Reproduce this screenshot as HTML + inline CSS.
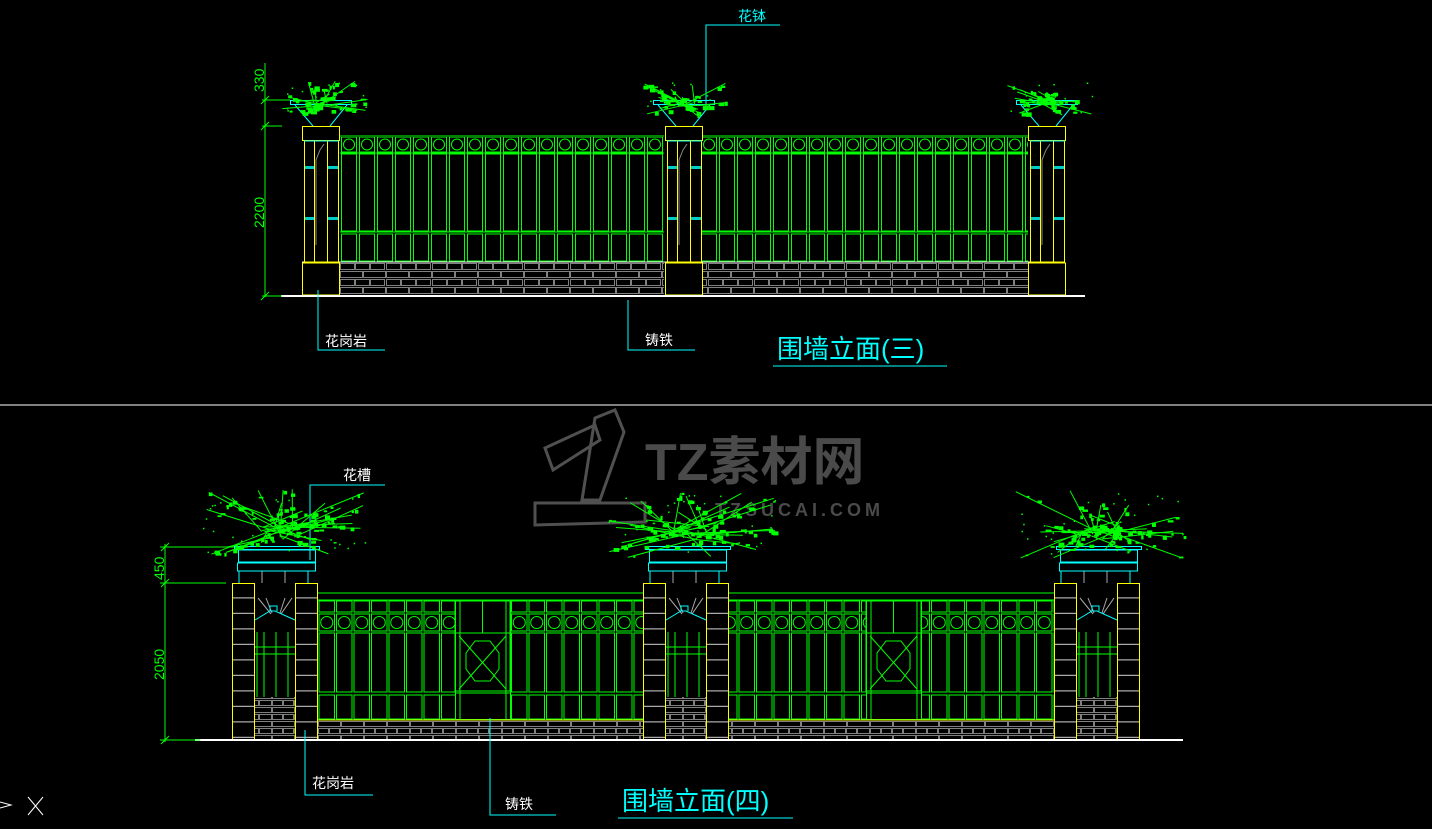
<!DOCTYPE html>
<html><head><meta charset="utf-8"><style>
html,body{margin:0;padding:0;background:#000;width:1432px;height:829px;overflow:hidden}
svg{display:block}
text{font-family:"Liberation Sans","Noto Sans CJK SC",sans-serif}
</style></head><body>
<svg id="s" width="1432" height="829" viewBox="0 0 1432 829" xmlns="http://www.w3.org/2000/svg">
<defs>
<pattern id="barsT" x="340" y="0" width="18" height="829" patternUnits="userSpaceOnUse">
 <rect x="1.5" y="154" width="15" height="77" fill="none" stroke="#00ff00" stroke-width="1"/>
 <rect x="1.5" y="234" width="15" height="27" fill="none" stroke="#00ff00" stroke-width="1"/>
 <rect x="1.5" y="137" width="15" height="15" fill="none" stroke="#00ff00" stroke-width="1"/>
 <circle cx="9" cy="144.5" r="5.5" fill="none" stroke="#00ff00" stroke-width="1"/>
 <line x1="9" y1="130" x2="9" y2="136" stroke="#00ff00"/>
</pattern>
<pattern id="brickT" x="340" y="263" width="46" height="16" patternUnits="userSpaceOnUse">
 <rect x="0.5" y="0.5" width="14" height="6" fill="none" stroke="#808080"/>
 <rect x="15.5" y="0.5" width="14" height="6" fill="none" stroke="#808080"/>
 <rect x="30.5" y="0.5" width="14" height="6" fill="none" stroke="#808080"/>
 <rect x="0.5" y="8.5" width="22" height="6" fill="none" stroke="#808080"/>
 <rect x="23.5" y="8.5" width="22" height="6" fill="none" stroke="#808080"/>
</pattern>
<pattern id="barsB" x="318" y="0" width="17.5" height="829" patternUnits="userSpaceOnUse">
 <rect x="1" y="601" width="15.5" height="11" fill="none" stroke="#00ff00"/>
 <rect x="1" y="614" width="15.5" height="17" fill="none" stroke="#00ff00"/>
 <circle cx="8.75" cy="622.5" r="6" fill="none" stroke="#00ff00"/>
 <rect x="1" y="633" width="15.5" height="59" fill="none" stroke="#00ff00"/>
 <rect x="1" y="695" width="15.5" height="24" fill="none" stroke="#00ff00"/>
</pattern>
<pattern id="brickB" x="318" y="721" width="46" height="14" patternUnits="userSpaceOnUse">
 <rect x="0.5" y="0.5" width="22" height="5" fill="none" stroke="#808080"/>
 <rect x="23.5" y="0.5" width="22" height="5" fill="none" stroke="#808080"/>
 <rect x="0.5" y="7.5" width="10" height="5" fill="none" stroke="#808080"/>
 <rect x="11.5" y="7.5" width="10" height="5" fill="none" stroke="#808080"/>
 <rect x="22.5" y="7.5" width="10" height="5" fill="none" stroke="#808080"/>
 <rect x="33.5" y="7.5" width="12" height="5" fill="none" stroke="#808080"/>
</pattern>
<pattern id="pilB" x="0" y="583" width="10" height="15.5" patternUnits="userSpaceOnUse">
 <line x1="0" y1="15" x2="10" y2="15" stroke="#aaa" stroke-width="1.5"/>
</pattern>
<g id="xdec">
 <rect x="0" y="0" width="55" height="90" fill="none" stroke="#00ff00"/>
 <line x1="4" y1="35" x2="51" y2="88" stroke="#00ff00"/>
 <line x1="51" y1="35" x2="4" y2="88" stroke="#00ff00"/>
 <polygon points="20,40 35,40 44,52 44,68 35,80 20,80 11,68 11,52" fill="none" stroke="#00ff00"/>
 <line x1="0" y1="32" x2="55" y2="32" stroke="#00ff00"/>
 <line x1="0" y1="92" x2="55" y2="92" stroke="#00ff00"/>
 <line x1="27.5" y1="0" x2="27.5" y2="32" stroke="#00ff00"/>
</g>
</defs>

<g stroke="#505050" stroke-width="3" fill="none">
 <path d="M545 448 L595 425 L600 440 L553 470 Z"/>
 <path d="M595 418 L615 410 L624 432 L600 500 L582 500 Z"/>
 <path d="M535 503 L645 503 L645 522 L535 525 Z"/>
</g>
<text x="645" y="480" font-size="52" font-weight="bold" fill="#4a4a4a">TZ素材网</text>
<text x="715" y="516" font-size="18" font-weight="bold" fill="#4a4a4a" letter-spacing="4">TZSUCAI.COM</text>

<rect x="340" y="137" width="324" height="125" fill="url(#barsT)"/>
<rect x="702" y="137" width="326" height="125" fill="url(#barsT)"/>
<g stroke="#00ff00" fill="none">
 <line x1="340" y1="136" x2="664" y2="136"/><line x1="702" y1="136" x2="1028" y2="136"/>
 <line x1="340" y1="153" x2="664" y2="153"/><line x1="702" y1="153" x2="1028" y2="153"/>
 <line x1="340" y1="232" x2="664" y2="232"/><line x1="702" y1="232" x2="1028" y2="232"/>
</g>
<rect x="340" y="263" width="324" height="32" fill="url(#brickT)"/>
<rect x="702" y="263" width="326" height="32" fill="url(#brickT)"/>
<line x1="302" y1="262" x2="1065" y2="262" stroke="#fff"/>
<g id="pilT" stroke="#ffff00" fill="none">
 <rect x="302.5" y="126.5" width="37" height="14"/>
 <rect x="304.5" y="141" width="34" height="121"/>
 <line x1="314.5" y1="141" x2="314.5" y2="262"/><line x1="327.5" y1="141" x2="327.5" y2="262"/>
 <rect x="302.5" y="263" width="37" height="32"/>
 <path d="M316 245 L316 160 L320 150 L324 144" stroke="#888"/>
 <rect x="305" y="166" width="9" height="3" fill="#00cccc" stroke="none"/>
 <rect x="328" y="166" width="10" height="3" fill="#00cccc" stroke="none"/>
 <rect x="305" y="217" width="9" height="3" fill="#00cccc" stroke="none"/>
 <rect x="328" y="217" width="10" height="3" fill="#00cccc" stroke="none"/>
 <line x1="304" y1="141" x2="339" y2="141" stroke="#00ffff"/>
</g>
<use href="#pilT" x="363"/>
<use href="#pilT" x="726"/>
<g stroke="#00ffff" fill="none">
 <rect x="290.5" y="100.5" width="61" height="4"/><path d="M295 105 L313 126 M347 105 L330 126"/>
 <rect x="653.5" y="100.5" width="61" height="4"/><path d="M658 105 L676 126 M710 105 L693 126"/>
 <rect x="1016.5" y="100.5" width="61" height="4"/><path d="M1021 105 L1039 126 M1073 105 L1056 126"/>
</g>
<line x1="281" y1="296" x2="1085" y2="296" stroke="#fff" stroke-width="2"/>
<g stroke="#00ff00">
 <line x1="265" y1="63" x2="265" y2="297"/>
 <line x1="262" y1="100" x2="290" y2="100"/><line x1="262" y1="126" x2="282" y2="126"/><line x1="262" y1="296" x2="282" y2="296"/>
 <line x1="261" y1="104" x2="269" y2="96"/><line x1="261" y1="130" x2="269" y2="122"/><line x1="261" y1="300" x2="269" y2="292"/>
</g>
<text transform="translate(264,92) rotate(-90)" font-size="14" fill="#00ff00">330</text>
<text transform="translate(264,228) rotate(-90)" font-size="14" fill="#00ff00">2200</text>
<g stroke="#00ffff" fill="none">
 <path d="M706 110 L706 25 L780 25"/>
 <path d="M318 290 L318 350 L385 350"/>
 <path d="M628 300 L628 350 L695 350"/>
 <line x1="773" y1="366" x2="947" y2="366"/>
</g>
<text x="738" y="21" font-size="14" fill="#00ffff">花钵</text>
<text x="325" y="346" font-size="14" fill="#fff">花岗岩</text>
<text x="645" y="345" font-size="14" fill="#fff">铸铁</text>
<text x="777" y="358" font-size="26" fill="#00ffff" font-family="Liberation Serif,Noto Serif CJK SC,serif">围墙立面(三)</text>

<line x1="0" y1="405" x2="1432" y2="405" stroke="#fff"/>

<rect x="318" y="600" width="137" height="120" fill="url(#barsB)"/>
<rect x="510" y="600" width="133" height="120" fill="url(#barsB)"/>
<rect x="729" y="600" width="137" height="120" fill="url(#barsB)"/>
<rect x="921" y="600" width="133" height="120" fill="url(#barsB)"/>
<g stroke="#00ff00" fill="none">
 <line x1="318" y1="593" x2="643" y2="593"/><line x1="729" y1="593" x2="1054" y2="593"/>
 <line x1="318" y1="600" x2="643" y2="600"/><line x1="729" y1="600" x2="1054" y2="600"/>
 <rect x="455.5" y="600.5" width="55" height="119"/><rect x="866.5" y="600.5" width="55" height="119"/>
 <line x1="460" y1="600" x2="460" y2="720"/><line x1="506" y1="600" x2="506" y2="720"/>
 <line x1="871" y1="600" x2="871" y2="720"/><line x1="917" y1="600" x2="917" y2="720"/>
</g>
<use href="#xdec" x="455" y="601"/>
<use href="#xdec" x="866" y="601"/>
<line x1="318" y1="720" x2="643" y2="720" stroke="#ffff00"/>
<line x1="729" y1="720" x2="1054" y2="720" stroke="#ffff00"/>
<rect x="318" y="721" width="325" height="18" fill="url(#brickB)"/>
<rect x="729" y="721" width="325" height="18" fill="url(#brickB)"/>
<g id="pB">
 <rect x="232.5" y="583.5" width="22" height="156" fill="url(#pilB)" stroke="#ffff00"/>
 <rect x="295.5" y="583.5" width="22" height="156" fill="url(#pilB)" stroke="#ffff00"/>
 <g stroke="#00ff00" fill="none">
  <line x1="257" y1="632" x2="257" y2="697"/><line x1="264" y1="632" x2="264" y2="697"/><line x1="276" y1="632" x2="276" y2="697"/><line x1="288" y1="632" x2="288" y2="697"/>
  <line x1="255" y1="647" x2="295" y2="647"/><line x1="255" y1="654" x2="295" y2="654"/>
 </g>
 <g stroke="#aaa"><line x1="262" y1="571" x2="262" y2="583"/><line x1="285" y1="571" x2="285" y2="583"/>
  <line x1="258" y1="598" x2="271" y2="614"/><line x1="266" y1="598" x2="272" y2="613"/><line x1="292" y1="598" x2="281" y2="614"/><line x1="285" y1="598" x2="280" y2="613"/></g>
 <path d="M255 620 L270 611 L275 611 L295 620 M270 611 L270 606 L277 606 L277 611" stroke="#00ffff" fill="none"/>
 <rect x="255" y="697" width="40" height="42" fill="url(#brickB)"/>
 <g stroke="#00ffff" fill="none"><rect x="234.5" y="546.5" width="85" height="3"/><rect x="238.5" y="550" width="77" height="12"/><rect x="237.5" y="563" width="78" height="8"/><line x1="239" y1="571" x2="239" y2="583"/><line x1="308" y1="571" x2="308" y2="583"/></g>
</g>
<use href="#pB" x="411"/>
<use href="#pB" x="822"/>
<line x1="195" y1="740" x2="1183" y2="740" stroke="#fff" stroke-width="2"/>
<g stroke="#00ff00">
 <line x1="165" y1="544" x2="165" y2="742"/>
 <line x1="160" y1="547" x2="234" y2="547"/><line x1="160" y1="583" x2="226" y2="583"/><line x1="160" y1="740" x2="200" y2="740"/>
 <line x1="161" y1="551" x2="169" y2="543"/><line x1="161" y1="587" x2="169" y2="579"/><line x1="161" y1="744" x2="169" y2="736"/>
</g>
<text transform="translate(164,580) rotate(-90)" font-size="14" fill="#00ff00">450</text>
<text transform="translate(164,680) rotate(-90)" font-size="14" fill="#00ff00">2050</text>
<g stroke="#00ffff" fill="none">
 <path d="M310 560 L310 485 L385 485"/>
 <path d="M305 730 L305 795 L373 795"/>
 <path d="M490 718 L490 815 L556 815"/>
 <line x1="618" y1="818" x2="793" y2="818"/>
</g>
<text x="343" y="480" font-size="14" fill="#fff">花槽</text>
<text x="312" y="788" font-size="14" fill="#fff">花岗岩</text>
<text x="505" y="809" font-size="14" fill="#fff">铸铁</text>
<text x="622" y="810" font-size="26" fill="#00ffff" font-family="Liberation Serif,Noto Serif CJK SC,serif">围墙立面(四)</text>
<g stroke="#fff"><path d="M0 802 L11 805 L0 808"/><line x1="28" y1="797" x2="43" y2="815"/><line x1="43" y1="797" x2="28" y2="815"/></g>
<g id="fl"></g>
</svg>
<script>
(function(){
var s=11;function r(){s=(s*16807)%2147483647;return s/2147483647;}
var h='';
function bush(cx,cy,w,hh,n){
 for(var i=0;i<n;i++){
  var bx=cx+(r()-0.5)*w*0.25, by=cy+(r()-0.3)*hh*0.2;
  var ex=cx+(r()-0.5)*w, ey=cy-hh*0.6+r()*hh*1.0;
  h+='<line x1="'+bx.toFixed(1)+'" y1="'+by.toFixed(1)+'" x2="'+ex.toFixed(1)+'" y2="'+ey.toFixed(1)+'" stroke="#00ff00" stroke-width="1"/>';
  var k=2+Math.floor(r()*3);
  for(var j=0;j<k;j++){var t=0.3+r()*0.7;
   var px=bx+(ex-bx)*t+(r()-0.5)*6, py=by+(ey-by)*t+(r()-0.5)*6;
   h+='<rect x="'+px.toFixed(1)+'" y="'+py.toFixed(1)+'" width="'+(2+r()*4).toFixed(1)+'" height="'+(1.5+r()*3).toFixed(1)+'" fill="#00ff00"/>';}
 }
 for(var m=0;m<n;m++){
  var qx=cx+(r()-0.5)*w, qy=cy-hh*0.55+r()*hh*0.9;
  h+='<rect x="'+qx.toFixed(1)+'" y="'+qy.toFixed(1)+'" width="1.5" height="1.5" fill="#00ff00"/>';
 }
}
bush(325,102,88,36,16);bush(688,102,88,36,16);bush(1048,102,88,36,16);
bush(278,530,175,70,30);bush(690,530,170,70,30);bush(1100,530,170,70,30);
document.getElementById('fl').innerHTML=h;
})();
</script>
</body></html>
